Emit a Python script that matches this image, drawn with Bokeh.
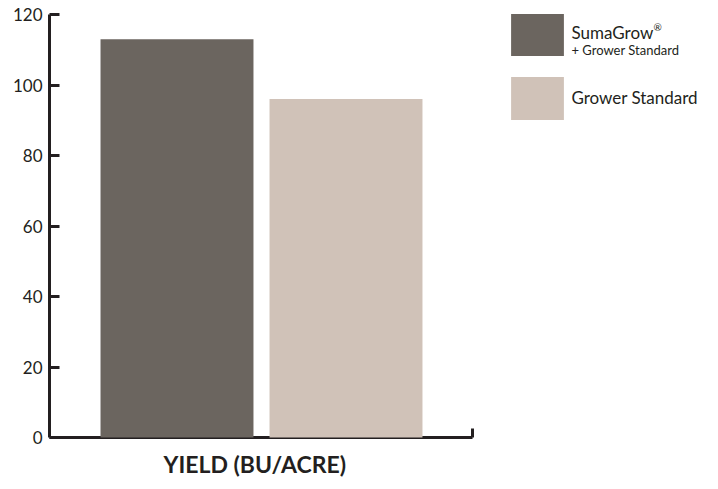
from bokeh.plotting import figure
from bokeh.models import (Range1d, LinearAxis, FixedTicker, Legend, LegendItem,
                          Label, ColumnDataSource, Title)
from bokeh.core.properties import value
from bokeh.embed import file_html
from bokeh.resources import INLINE

# ---- data ----
categories = ["SumaGrow® + Grower Standard", "Grower Standard"]
yield_values = [113, 96]
y_ticks = [0, 20, 40, 60, 80, 100, 120]
bar_colors = ["#6b655f", "#d0c2b8"]
x_title = "YIELD (BU/ACRE)"

positions = [i + 1 for i in range(len(categories))]

# ---- layout ----
INK = "#231f20"
x_start = 0.2456
x_end = 4.1686
axis_end = 2.7456

p = figure(width=712, height=489, x_range=Range1d(x_start, x_end),
           y_range=Range1d(0, 120), output_backend="svg", toolbar_location=None,
           x_axis_type=None, y_axis_type=None,
           min_border_left=49, min_border_right=0, min_border_top=14,
           min_border_bottom=52)
p.outline_line_color = None
p.background_fill_color = "white"
p.border_fill_color = "white"

source = ColumnDataSource(dict(x=positions, top=yield_values, color=bar_colors,
                               label=categories))
r = p.vbar(x="x", top="top", bottom=0, width=0.905, source=source,
           fill_color="color", line_color=None, level="overlay")

yaxis = LinearAxis(ticker=FixedTicker(ticks=y_ticks))
yaxis.axis_line_width = 3
yaxis.axis_line_color = INK
yaxis.major_tick_line_width = 3
yaxis.major_tick_line_color = INK
yaxis.major_tick_in = 10
yaxis.major_tick_out = 0
yaxis.minor_tick_line_color = None
yaxis.major_label_standoff = 7
yaxis.major_label_text_font = "Lato"
yaxis.major_label_text_font_size = "17px"
yaxis.major_label_text_color = INK
p.add_layout(yaxis, "left")

xaxis = LinearAxis(ticker=FixedTicker(ticks=[axis_end]), bounds=(x_start, axis_end))
xaxis.axis_line_width = 3
xaxis.axis_line_color = INK
xaxis.major_tick_line_width = 3
xaxis.major_tick_line_color = INK
xaxis.major_tick_in = 9
xaxis.major_tick_out = 0
xaxis.minor_tick_line_color = None
xaxis.major_label_overrides = {axis_end: ""}
xaxis.major_label_standoff = 0
xaxis.major_label_text_font_size = "1px"
p.add_layout(xaxis, "below")

title = Title(text=x_title, align="left", offset=114, standoff=20,
              text_font="Lato", text_font_style="bold", text_font_size="23px",
              text_color=INK)
p.add_layout(title, "below")

common = dict(glyph_width=66, glyph_height=54, label_standoff=1, padding=0, margin=0,
              border_line_color=None, background_fill_alpha=0,
              label_text_font="Lato", label_text_font_size="17px",
              label_text_color=INK, spacing=0, label_text_baseline="middle")

legA = Legend(items=[LegendItem(label=value(""), renderers=[r], index=0)],
              location=(455.4, 376.4), **common)
legB = Legend(items=[LegendItem(label=value(categories[1]), renderers=[r], index=1)],
              location=(455.4, 312.4), **common)
p.add_layout(legA)
p.add_layout(legB)

name = Label(x=522, y=405, x_units="screen", y_units="screen",
             text="SumaGrow", text_font="Lato", text_font_size="17px",
             text_color=INK, text_baseline="alphabetic", text_align="left")
reg = Label(x=604, y=411, x_units="screen", y_units="screen",
            text="®", text_font="Lato", text_font_size="10px",
            text_color=INK, text_baseline="alphabetic", text_align="left")
sub = Label(x=522, y=387.5, x_units="screen", y_units="screen",
            text="+ Grower Standard", text_font="Lato", text_font_size="13px",
            text_color=INK, text_baseline="alphabetic", text_align="left")
p.add_layout(name)
p.add_layout(reg)
p.add_layout(sub)

open("out.html", "w").write(file_html(p, INLINE))
